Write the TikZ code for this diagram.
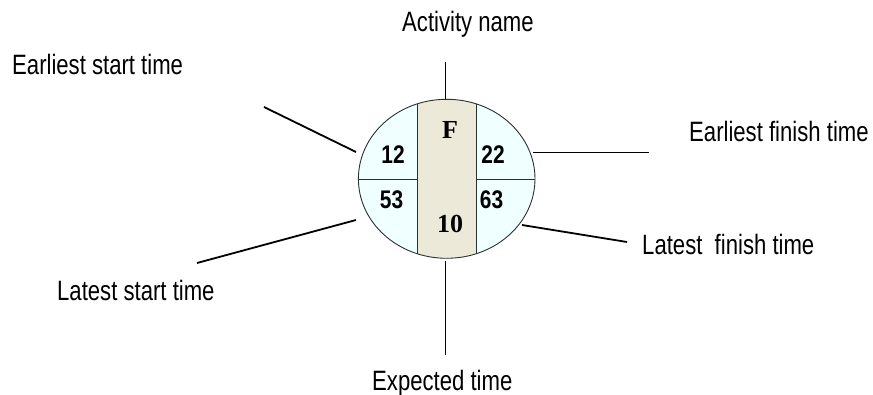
\documentclass[tikz,border=0pt]{standalone}
\usepackage{fontspec}
\usetikzlibrary{shapes.geometric}
\newfontfamily\lblfont[FakeStretch=0.79]{Liberation Sans}
\newfontfamily\numfont[FakeStretch=0.82]{Liberation Sans}
\newfontfamily\serfont{Liberation Serif}
\definecolor{cellcyan}{RGB}{240,255,255}
\definecolor{bandbeige}{RGB}{236,233,216}
\definecolor{outline}{RGB}{40,50,50}
\begin{document}
\begin{tikzpicture}[x=1pt,y=-1pt,
  lbl/.style={anchor=base west,inner sep=0pt,font=\lblfont\fontsize{28}{30}\selectfont},
  num/.style={anchor=base,inner sep=0pt,font=\numfont\bfseries\fontsize{25.5}{28}\selectfont},
  ser/.style={anchor=base,inner sep=0pt,font=\serfont\bfseries\fontsize{26}{28}\selectfont},
  conn/.style={line width=1.8pt,black},
  thin/.style={line width=0.9pt,outline}]
\useasboundingbox (0,0) rectangle (873,395);
% ellipse body
\node[ellipse,draw=none,fill=cellcyan,minimum width=176.6pt,minimum height=159pt,inner sep=0pt] (ell) at (446.7,178.8) {};
\begin{scope}
  \clip (446.7,178.8) ellipse [x radius=88.3pt, y radius=79.5pt];
  \fill[bandbeige] (417.7,90) rectangle (476.7,270);
  \draw[thin] (417.7,90) -- (417.7,270);
  \draw[thin] (476.7,90) -- (476.7,270);
  \draw[thin] (350,179.3) -- (417.7,179.3);
  \draw[thin] (476.7,179.3) -- (545,179.3);
\end{scope}
\draw[thin] (446.7,178.8) ellipse [x radius=88.3pt, y radius=79.5pt];
% cell texts
\node[num] (es) at (393,163.3) {12};
\node[num] (ef) at (493,163.3) {22};
\node[num] (ls) at (391.5,208.3) {53};
\node[num] (lf) at (491.5,208.3) {63};
\node[ser] (an) at (450,138.3) {F};
\node[ser] (et) at (450,232.7) {10};
% labels
\node[lbl] (tAN) at (402,31.7) {Activity name};
\node[lbl] (tES) at (12,74.3) {Earliest start time};
\node[lbl] (tEF) at (689,142) {Earliest finish time};
\node[lbl] (tLF) at (642,255) {Latest\ \ finish time};
\node[lbl] (tLS) at (57,300.7) {Latest start time};
\node[lbl] (tET) at (372,390) {Expected time};
% connector ends
\coordinate (anA) at (445.5,62);   \coordinate (anB) at (445.5,99);
\coordinate (esA) at (264,107);    \coordinate (esB) at (356,152);
\coordinate (efA) at (649,152.5);  \coordinate (efB) at (533,152.5);
\coordinate (lfA) at (627,242);    \coordinate (lfB) at (522,225);
\coordinate (lsA) at (197,263);    \coordinate (lsB) at (356,220);
\coordinate (etA) at (445.5,355);  \coordinate (etB) at (445.5,261);
\draw[conn] (anA) -- (anB);
\draw[conn] (esA) -- (esB);
\draw[conn] (efA) -- (efB);
\draw[conn] (lfA) -- (lfB);
\draw[conn] (lsA) -- (lsB);
\draw[conn] (etA) -- (etB);
\end{tikzpicture}
\end{document}
